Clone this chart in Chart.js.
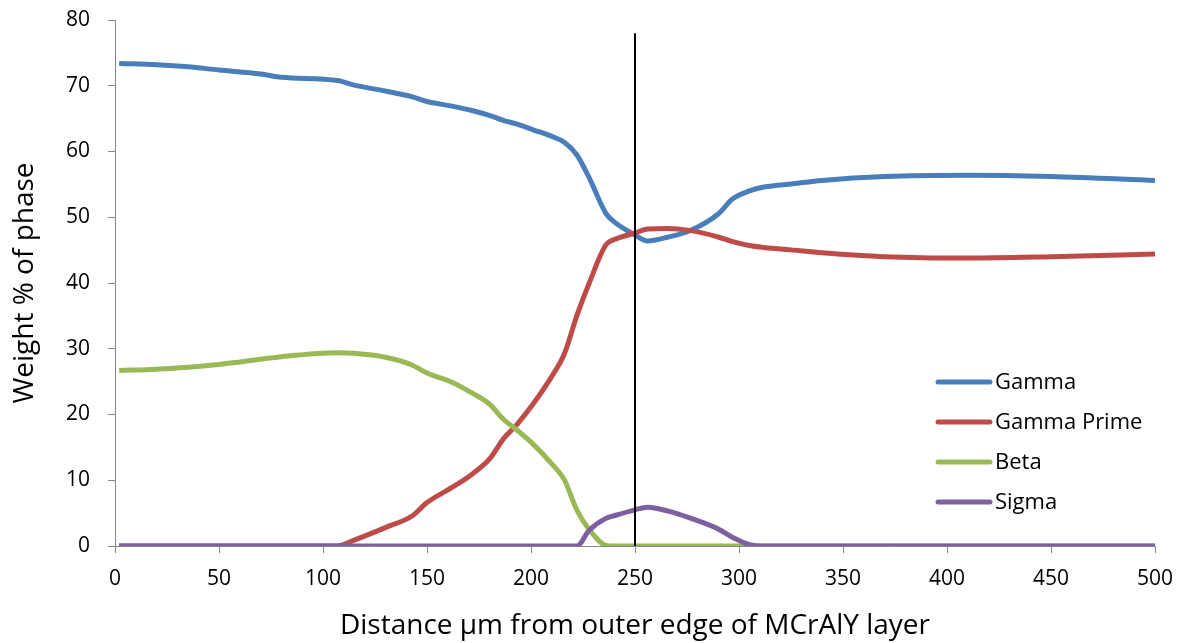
<!DOCTYPE html>
<html lang="en">
<head>
    <meta charset="UTF-8">
    <title>Weight % of phase vs distance</title>
    <script src="https://cdn.jsdelivr.net/npm/chart.js"></script>
    <style>
        body { margin: 0; background: #fff; }
        .chart-container { position: relative; width: 1184px; height: 643px; }
    </style>
</head>
<body>
    <div class="chart-container">
        <canvas id="phaseChart"></canvas>
    </div>

    <script>
        // Distance from outer edge (µm), shared by all series
        const distance = [2, 20, 35, 50, 70, 80, 107, 115, 130, 143, 150, 162, 172, 180, 187, 193, 201, 210, 216, 222, 228, 236, 240, 250, 256, 266, 276, 290, 297, 305, 312, 326, 340, 370, 410, 450, 500];

        const gamma = [73.4, 73.2, 72.9, 72.4, 71.8, 71.3, 70.8, 70.1, 69.2, 68.3, 67.6, 66.9, 66.2, 65.5, 64.7, 64.2, 63.3, 62.3, 61.4, 59.5, 56.0, 50.6, 49.3, 47.3, 46.4, 47.0, 47.9, 50.5, 52.8, 54.0, 54.6, 55.1, 55.6, 56.2, 56.4, 56.2, 55.6];
        const gammaPrime = [0, 0, 0, 0, 0, 0, 0, 0.9, 2.8, 4.6, 6.6, 8.9, 11.0, 13.2, 16.4, 18.4, 21.6, 25.8, 29.2, 35.0, 40.0, 45.8, 46.6, 47.6, 48.2, 48.3, 48.0, 47.0, 46.3, 45.7, 45.4, 45.0, 44.6, 44.0, 43.8, 44.0, 44.4];
        const beta = [26.7, 26.9, 27.2, 27.6, 28.4, 28.8, 29.4, 29.3, 28.7, 27.5, 26.3, 24.9, 23.2, 21.6, 19.2, 17.7, 15.5, 12.5, 10.1, 5.5, 2.5, 0.1, 0, 0, 0, 0, 0, 0, 0, 0, 0, 0, 0, 0, 0, 0, 0];
        const sigma = [0, 0, 0, 0, 0, 0, 0, 0, 0, 0, 0, 0, 0, 0, 0, 0, 0, 0, 0, 0, 2.4, 4.2, 4.6, 5.5, 5.9, 5.3, 4.3, 2.6, 1.3, 0.2, 0, 0, 0, 0, 0, 0, 0];

        // vertical marker line at 250 µm
        const markerX = [250, 250];
        const markerY = [0, 78];

        const seriesNames = ['Gamma', 'Gamma Prime', 'Beta', 'Sigma'];
        const seriesColors = ['#4a7ebb', '#be4b48', '#98b954', '#7d60a0'];
        const seriesValues = [gamma, gammaPrime, beta, sigma];

        const xTicks = [0, 50, 100, 150, 200, 250, 300, 350, 400, 450, 500];
        const yTicks = [0, 10, 20, 30, 40, 50, 60, 70, 80];

        const FONT = '"Open Sans", "Liberation Sans", sans-serif';

        function toPoints(xs, ys) {
            return xs.map((x, i) => ({ x: x, y: ys[i] }));
        }

        // legend drawn inside the plot area, like the original
        const insideLegend = {
            id: 'insideLegend',
            afterDraw(chart) {
                const ctx = chart.ctx;
                const left = 935, textX = 995;
                let y = 382;
                ctx.save();
                ctx.font = '22px ' + FONT;
                ctx.textBaseline = 'middle';
                ctx.lineCap = 'round';
                seriesNames.forEach((name, i) => {
                    ctx.strokeStyle = seriesColors[i];
                    ctx.lineWidth = 5;
                    ctx.beginPath();
                    ctx.moveTo(left + 3, y);
                    ctx.lineTo(left + 55, y);
                    ctx.stroke();
                    ctx.fillStyle = '#000';
                    ctx.fillText(name, textX, y + 1);
                    y += 40;
                });
                ctx.restore();
            }
        };

        // later series sit on top, the marker line on top of all
        const datasets = seriesNames.map((name, i) => ({
            label: name,
            data: toPoints(distance, seriesValues[i]),
            borderColor: seriesColors[i],
            backgroundColor: seriesColors[i],
            borderWidth: 5,
            pointRadius: 0,
            cubicInterpolationMode: 'monotone',
            order: seriesNames.length - i,
            fill: false
        }));
        datasets.push({
            label: 'marker',
            data: toPoints(markerX, markerY),
            borderColor: '#000',
            borderWidth: 2,
            pointRadius: 0,
            order: -1,
            fill: false
        });

        const ctx = document.getElementById('phaseChart').getContext('2d');
        new Chart(ctx, {
            type: 'line',
            data: { datasets: datasets },
            options: {
                responsive: true,
                maintainAspectRatio: false,
                animation: false,
                layout: { padding: { top: 20, right: 29, left: 0, bottom: 0 } },
                scales: {
                    x: {
                        type: 'linear',
                        min: 0,
                        max: 500,
                        afterBuildTicks: s => { s.ticks = xTicks.map(v => ({ value: v })); },
                        afterFit: s => { s.height = 97; s.paddingLeft = 0; s.paddingRight = 0; },
                        grid: { drawOnChartArea: false, drawTicks: true, tickLength: 7, color: '#868686' },
                        border: { color: '#868686', width: 1 },
                        ticks: { color: '#000', font: { size: 21, family: FONT }, padding: 13, maxRotation: 0 },
                        title: {
                            display: true,
                            text: 'Distance µm from outer edge of MCrAlY layer',
                            color: '#000',
                            font: { size: 28, family: FONT },
                            padding: { top: 0, bottom: 0 }
                        }
                    },
                    y: {
                        min: 0,
                        max: 80,
                        afterBuildTicks: s => { s.ticks = yTicks.map(v => ({ value: v })); },
                        afterFit: s => { s.width = 115; s.paddingTop = 0; s.paddingBottom = 0; },
                        grid: { drawOnChartArea: false, drawTicks: true, tickLength: 7, color: '#868686' },
                        border: { color: '#868686', width: 1 },
                        ticks: { color: '#000', font: { size: 21, family: FONT }, padding: 18 },
                        title: {
                            display: true,
                            text: 'Weight % of phase',
                            color: '#000',
                            font: { size: 28, family: FONT },
                            padding: { top: 8, bottom: 0 }
                        }
                    }
                },
                plugins: {
                    legend: { display: false },
                    tooltip: { enabled: false }
                }
            },
            plugins: [insideLegend]
        });
    </script>
</body>
</html>
